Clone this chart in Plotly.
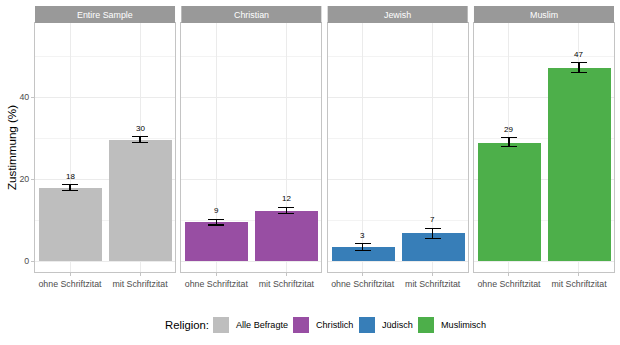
import plotly.graph_objects as go
from plotly.subplots import make_subplots

categories = ["ohne Schriftzitat", "mit Schriftzitat"]
panels = ["Entire Sample", "Christian", "Jewish", "Muslim"]
groups = ["Alle Befragte", "Christlich", "Jüdisch", "Muslimisch"]
colors = ["#BEBEBE", "#984EA3", "#377EB8", "#4DAF4A"]

values = [[17.9, 29.6], [9.4, 12.3], [3.4, 6.8], [28.9, 47.1]]
ci_low = [[17.2, 28.9], [8.8, 11.5], [2.6, 5.5], [27.9, 46.0]]
ci_high = [[18.6, 30.3], [10.2, 13.1], [4.2, 8.0], [30.1, 48.4]]

y_ticks = [0, 20, 40]

W, H = 620, 345
ml, mr, mt, mb = 35, 6, 23, 73
pw = W - ml - mr
ph = H - mt - mb
gap = 6.3

fig = make_subplots(rows=1, cols=4, shared_yaxes=True,
                    horizontal_spacing=gap / pw)

font = "Liberation Sans, Arial, sans-serif"

for i, p in enumerate(panels):
    v = values[i]
    plus = [h - a for h, a in zip(ci_high[i], v)]
    minus = [a - l for a, l in zip(v, ci_low[i])]
    fig.add_trace(go.Bar(
        x=[0, 1], y=v, width=0.9, name=groups[i],
        marker=dict(color=colors[i], line=dict(width=0)),
        error_y=dict(type="data", array=plus, arrayminus=minus,
                     color="black", thickness=1.2, width=8),
        showlegend=False, hoverinfo="skip"), row=1, col=i + 1)
    for j in range(2):
        fig.add_annotation(x=j, y=ci_high[i][j], text=f"{v[j]:.0f}",
                           showarrow=False, yanchor="bottom", yshift=2,
                           font=dict(size=8, color="black", family=font),
                           row=1, col=i + 1)
    xn = "x" if i == 0 else f"x{i+1}"
    yn = "y" if i == 0 else f"y{i+1}"
    fig.add_shape(type="rect", xref=f"{xn} domain", yref=f"{yn} domain",
                  x0=0, x1=1, y0=1, y1=1 + 17 / ph,
                  fillcolor="#999999", line=dict(width=0), layer="above")
    fig.add_annotation(xref=f"{xn} domain", yref=f"{yn} domain",
                       x=0.5, y=1 + 8.5 / ph, text=p, showarrow=False,
                       font=dict(size=8.9, color="white", family=font),
                       xanchor="center", yanchor="middle")

# manual legend (ggplot-style, bottom)
def px_x(px):
    return (px - ml) / pw

def px_y(py):
    return (H - mb - py) / ph

leg_y = 325
key_x = [213, 293, 359, 418]
key = 16
fig.add_annotation(xref="paper", yref="paper", x=px_x(163), y=px_y(leg_y),
                   text="Religion:", showarrow=False, xanchor="left",
                   yanchor="middle", font=dict(size=11.3, color="black", family=font))
for g, c, kx in zip(groups, colors, key_x):
    fig.add_shape(type="rect", xref="paper", yref="paper",
                  x0=px_x(kx), x1=px_x(kx + key),
                  y0=px_y(leg_y + key / 2), y1=px_y(leg_y - key / 2),
                  fillcolor=c, line=dict(width=0))
    fig.add_annotation(xref="paper", yref="paper", x=px_x(kx + key + 5),
                       y=px_y(leg_y), text=g, showarrow=False,
                       xanchor="left", yanchor="middle",
                       font=dict(size=9.1, color="black", family=font))

fig.update_xaxes(range=[-0.5, 1.5], tickvals=[0, 1], ticktext=categories,
                 showgrid=True, gridcolor="#EBEBEB", gridwidth=1,
                 showline=True, linecolor="#C4C4C4", linewidth=1, mirror=True,
                 ticks="outside", ticklen=3, tickcolor="#C4C4C4",
                 tickfont=dict(size=8.8, color="#4D4D4D", family=font),
                 zeroline=False, fixedrange=True)
fig.update_yaxes(range=[-2.68, 58.05], tickvals=y_ticks,
                 showgrid=True, gridcolor="#EBEBEB", gridwidth=1,
                 minor=dict(dtick=10, showgrid=True, gridcolor="#F3F3F3", gridwidth=0.6),
                 showline=True, linecolor="#C4C4C4", linewidth=1, mirror=True,
                 zeroline=False, fixedrange=True)
fig.update_yaxes(ticks="outside", ticklen=3, tickcolor="#C4C4C4",
                 tickfont=dict(size=8.8, color="#4D4D4D", family=font),
                 title=dict(text="Zustimmung (%)", standoff=0,
                            font=dict(size=11.6, color="black", family=font)),
                 row=1, col=1)
for c in range(2, 5):
    fig.update_yaxes(showticklabels=False, ticks="", row=1, col=c)

fig.update_layout(
    width=W, height=H,
    margin=dict(l=ml, r=mr, t=mt, b=mb),
    plot_bgcolor="white", paper_bgcolor="white",
    bargap=0,
    font=dict(family=font),
    showlegend=False,
)

fig.write_html("out.html")
